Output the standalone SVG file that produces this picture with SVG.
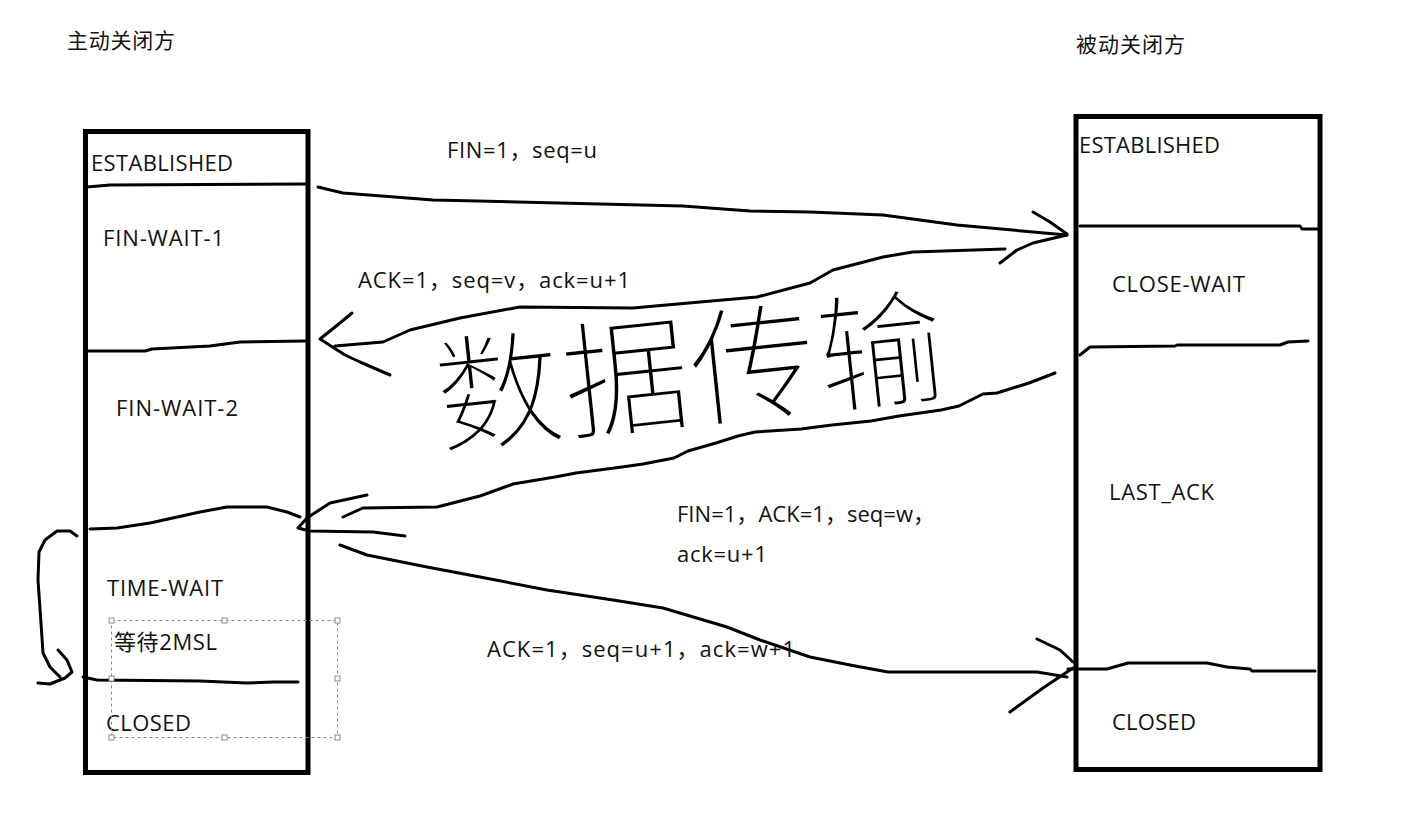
<svg xmlns="http://www.w3.org/2000/svg" width="1403" height="827" viewBox="0 0 1403 827">
<style>
.lbl{font-family:"Open Sans","Noto Sans CJK SC",sans-serif;font-size:22px;fill:#111}
.hdr{font-family:"Noto Sans CJK SC","Open Sans",sans-serif;font-size:21px;fill:#111}
.box{fill:none;stroke:#000;stroke-width:5}
.ink{fill:none;stroke:#000;stroke-width:3;stroke-linejoin:round;stroke-linecap:round}
.sel{fill:none;stroke:#8a8a8a;stroke-width:1;stroke-dasharray:3 3}
.hdl{fill:#fff;stroke:#8a8a8a;stroke-width:1}
.hand{font-family:"Noto Sans CJK SC",sans-serif;font-weight:200;font-size:128px;fill:#000;stroke:#fff;stroke-width:2.5}
</style>
<rect width="1403" height="827" fill="#fff"/>

<text class="hdr" x="67" y="48" textLength="108" lengthAdjust="spacing">主动关闭方</text>
<text class="hdr" x="1076" y="52" textLength="109" lengthAdjust="spacing">被动关闭方</text>

<g id="active-closer">
  <rect class="box" x="85.5" y="131.5" width="222.5" height="641"/>
  <path class="ink" d="M87,187 L110,185 L305,184"/>
  <path class="ink" d="M87,351 L145,351 L152,349 L210,346 L240,342 L305,341"/>
  <path class="ink" d="M90,529 L117,528 L150,523 L200,512 L227,507 L267,507 L287,512 L300,517"/>
  <path class="ink" d="M83,677 L97,680 L200,681 L247,683 L273,682 L298,682"/>
  <text class="lbl" x="91" y="171" textLength="142" lengthAdjust="spacing">ESTABLISHED</text>
  <text class="lbl" x="103" y="246" textLength="121" lengthAdjust="spacing">FIN-WAIT-1</text>
  <text class="lbl" x="116" y="416" textLength="122" lengthAdjust="spacing">FIN-WAIT-2</text>
  <text class="lbl" x="107" y="596" textLength="116" lengthAdjust="spacing">TIME-WAIT</text>
  <text class="lbl" x="114" y="650" textLength="103" lengthAdjust="spacing">等待2MSL</text>
  <text class="lbl" x="106" y="731" textLength="85" lengthAdjust="spacing">CLOSED</text>
</g>

<g id="selection-frame">
  <rect class="sel" x="111.5" y="620.5" width="226" height="117"/>
  <rect class="hdl" x="109" y="618" width="5" height="5"/>
  <rect class="hdl" x="222" y="618" width="5" height="5"/>
  <rect class="hdl" x="335" y="618" width="5" height="5"/>
  <rect class="hdl" x="109" y="676" width="5" height="5"/>
  <rect class="hdl" x="335" y="676" width="5" height="5"/>
  <rect class="hdl" x="109" y="735" width="5" height="5"/>
  <rect class="hdl" x="222" y="735" width="5" height="5"/>
  <rect class="hdl" x="335" y="735" width="5" height="5"/>
</g>

<g id="passive-closer">
  <rect class="box" x="1076" y="116.5" width="244" height="653"/>
  <path class="ink" d="M1080,226 L1300,226 L1302,229 L1317,229"/>
  <path class="ink" d="M1080,355 L1090,347 L1175,346 L1177,345 L1280,345 L1288,342 L1308,341"/>
  <path class="ink" d="M1068,669 L1107,669 L1128,663 L1207,663 L1227,667 L1250,669 L1252,671 L1315,671"/>
  <text class="lbl" x="1079" y="153" textLength="141" lengthAdjust="spacing">ESTABLISHED</text>
  <text class="lbl" x="1112" y="292" textLength="133" lengthAdjust="spacing">CLOSE-WAIT</text>
  <text class="lbl" x="1109" y="500" textLength="105" lengthAdjust="spacing">LAST_ACK</text>
  <text class="lbl" x="1112" y="730" textLength="84" lengthAdjust="spacing">CLOSED</text>
</g>

<g id="connectors">
  <path class="ink" d="M318,187 L343,193 L433,200 L517,202 L683,206 L750,211 L810,212 L883,215 L957,225 L1033,232 L1067,235"/>
  <path class="ink" d="M1033,212 L1050,222 L1067,234 M1067,235 L1033,243 L1017,250 L1000,263"/>
  <path class="ink" d="M1005,249 L913,252 L883,257 L833,270 L810,283 L757,297 L700,302 L633,308 L520,307 L460,318 L410,330 L383,342 L335,346"/>
  <path class="ink" d="M352,313 L340,323 L320,339 L345,355 L360,362 L390,375"/>
  <path class="ink" d="M1055,373 L1029,383 L997,393 L983,394 L959,406 L941,410 L899,416 L871,421 L832,425 L801,429 L755,432 L738,436 L716,443 L688,451 L674,458 L643,464 L622,467 L576,473 L555,477 L531,481 L513,484 L480,496 L437,507 L363,508 L343,517"/>
  <path class="ink" d="M367,495 L330,503 L307,518 L298,528 L310,531 L373,532 L405,536"/>
  <path class="ink" d="M340,545 L367,555 L427,567 L480,577 L547,590 L613,600 L663,608 L727,627 L760,640 L810,657 L850,665 L888,672 L1037,672 L1067,677"/>
  <path class="ink" d="M1037,639 L1060,650 L1073,662 M1073,668 L1043,688 L1010,712"/>
  <path class="ink" d="M77,536 L70,531 L57,531 L45,540 L39,552 L38,580 L41,623 L43,653 L50,667 L60,677 M58,650 L67,660 L72,672 L65,678 L50,684 L38,683"/>
</g>

<g id="message-labels">
  <text class="lbl" x="447" y="158" textLength="150" lengthAdjust="spacing">FIN=1，seq=u</text>
  <text class="lbl" x="358" y="288" textLength="272" lengthAdjust="spacing">ACK=1，seq=v，ack=u+1</text>
  <text class="lbl" x="677" y="522" textLength="258" lengthAdjust="spacing">FIN=1，ACK=1，seq=w，</text>
  <text class="lbl" x="677" y="562" textLength="90" lengthAdjust="spacing">ack=u+1</text>
  <text class="lbl" x="487" y="657" textLength="308" lengthAdjust="spacing">ACK=1，seq=u+1，ack=w+1</text>
</g>

<g id="data-transfer">
  <text class="hand" x="440" y="445" transform="rotate(-6 440 445)">数据传输</text>
</g>
</svg>
